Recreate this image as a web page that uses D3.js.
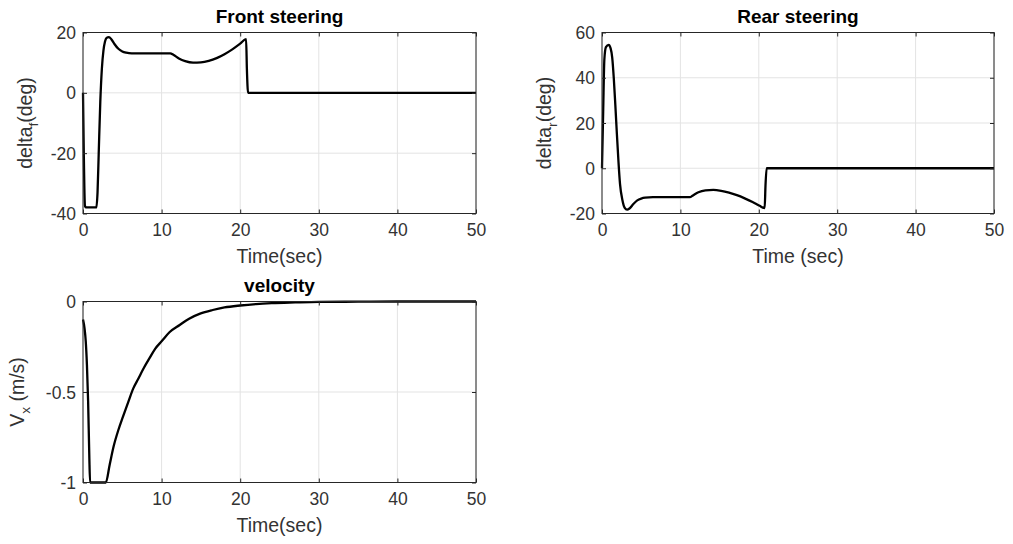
<!DOCTYPE html>
<html>
<head>
<meta charset="utf-8">
<script src="https://cdn.jsdelivr.net/npm/d3@7"></script>
<style>
  html, body { margin: 0; padding: 0; background: #fff; }
  svg { display: block; font-family: "Liberation Sans", Arial, sans-serif; }
</style>
</head>
<body>
<svg id="fig" width="1013" height="544"></svg>
<script>
// Front wheel steering angle (deg) over time (s)
const frontTime  = [0, 0.1, 0.25, 0.4, 1.7, 1.85, 2.0, 2.2, 2.4, 2.6, 2.8, 3.0, 3.3, 3.6, 4.0, 4.5, 5.0, 5.5, 6.2, 8, 10, 11.1, 11.5, 12.2, 13.0, 14.0, 15.0, 16.0, 17.0, 18.0, 19.0, 20.0, 20.75, 20.85, 21.0, 50];
const frontDelta = [0, -20, -37.5, -38, -38, -33, -20, -3, 8, 14, 17, 18.2, 18.5, 17.8, 16.2, 14.6, 13.7, 13.3, 13.1, 13.1, 13.1, 13.1, 12.6, 11.4, 10.5, 10.0, 10.1, 10.6, 11.5, 12.8, 14.4, 16.3, 17.8, 8, 0, 0];

// Rear wheel steering angle (deg) over time (s)
const rearTime  = [0, 0.15, 0.3, 0.5, 0.85, 1.1, 1.3, 1.5, 1.7, 1.9, 2.1, 2.3, 2.6, 2.9, 3.2, 3.5, 4.0, 4.5, 5.0, 5.5, 6.5, 11.2, 11.6, 12.3, 13.2, 14.2, 15.2, 16.2, 17.2, 18.2, 19.2, 20.1, 20.75, 20.85, 21.0, 50];
const rearDelta = [0, 25, 48, 53.5, 54.5, 53, 49, 40, 28, 15, 3, -7, -14, -17.5, -18.3, -17.8, -15.8, -14.2, -13.4, -13.0, -12.8, -12.8, -12.0, -10.6, -9.8, -9.6, -10.0, -10.8, -11.9, -13.3, -14.9, -16.6, -17.6, -8, 0, 0];

// Longitudinal velocity (m/s) over time (s)
const velTime = [0, 0.2, 0.35, 0.5, 0.65, 0.8, 0.9, 2.9, 3.4, 3.9, 4.5, 5.1, 5.8, 6.4, 7.0, 7.7, 8.5, 9.2, 10, 11, 12.3, 13.5, 14.9, 16.5, 18, 20, 22, 24, 27, 30, 35, 40, 50];
const velX    = [-0.1, -0.15, -0.22, -0.35, -0.55, -0.85, -1, -1, -0.9, -0.8, -0.71, -0.635, -0.55, -0.48, -0.43, -0.37, -0.31, -0.26, -0.22, -0.17, -0.13, -0.095, -0.067, -0.047, -0.033, -0.022, -0.014, -0.009, -0.005, -0.002, -0.001, 0, 0];

// Tick values
const timeTicks  = [0, 10, 20, 30, 40, 50];
const frontTicks = [-40, -20, 0, 20];
const rearTicks  = [-20, 0, 20, 40, 60];
const velTicks   = [-1, -0.5, 0];

const svg = d3.select("#fig");
const TICK_FS = 17.5, LABEL_FS = 19.5, TITLE_FS = 19;
const AXIS_COLOR = "#262626", TEXT_COLOR = "#333", GRID_COLOR = "#e3e3e3";
const plain = d => String(d);   // hyphen minus, as in the plotting tool's labels

function panel(opts) {
  const { left, top, width, height, xs, ys, yDomain, yTicks, title, xLabel, yLabel, yLabelX } = opts;
  const g = svg.append("g").attr("transform", `translate(${left},${top})`);
  const x = d3.scaleLinear().domain([0, 50]).range([0, width]);
  const y = d3.scaleLinear().domain(yDomain).range([height, 0]);

  // grid
  g.append("g").selectAll("line").data(timeTicks).join("line")
    .attr("x1", d => x(d)).attr("x2", d => x(d)).attr("y1", 0).attr("y2", height)
    .attr("stroke", GRID_COLOR).attr("stroke-width", 1);
  g.append("g").selectAll("line").data(yTicks).join("line")
    .attr("y1", d => y(d)).attr("y2", d => y(d)).attr("x1", 0).attr("x2", width)
    .attr("stroke", GRID_COLOR).attr("stroke-width", 1);

  // data line
  const pts = xs.map((t, i) => [t, ys[i]]);
  g.append("path").datum(pts)
    .attr("d", d3.line().curve(d3.curveMonotoneX).x(d => x(d[0])).y(d => y(d[1])))
    .attr("fill", "none").attr("stroke", "#000").attr("stroke-width", 2.3)
    .attr("stroke-linejoin", "round");

  // axes (ticks pointing inward, on all four sides)
  const xa = g.append("g").attr("transform", `translate(0,${height})`)
    .call(d3.axisBottom(x).tickValues(timeTicks).tickFormat(plain).tickSizeInner(-4).tickSizeOuter(0).tickPadding(10));
  const xt = g.append("g")
    .call(d3.axisTop(x).tickValues(timeTicks).tickSizeInner(-4).tickSizeOuter(0).tickFormat(""));
  const ya = g.append("g")
    .call(d3.axisLeft(y).tickValues(yTicks).tickFormat(plain).tickSizeInner(-4).tickSizeOuter(0).tickPadding(7));
  const yr = g.append("g").attr("transform", `translate(${width},0)`)
    .call(d3.axisRight(y).tickValues(yTicks).tickSizeInner(-4).tickSizeOuter(0).tickFormat(""));
  [xa, xt, ya, yr].forEach(a => {
    a.select(".domain").remove();
    a.selectAll(".tick line").attr("stroke", AXIS_COLOR);
    a.selectAll("text").attr("font-size", TICK_FS).attr("fill", TEXT_COLOR)
      .attr("font-family", "Liberation Sans, Arial, sans-serif");
  });
  ya.selectAll("text").attr("dy", "0.35em");

  // box
  g.append("rect").attr("width", width).attr("height", height)
    .attr("fill", "none").attr("stroke", AXIS_COLOR).attr("stroke-width", 1);

  // title
  g.append("text").attr("x", width / 2).attr("y", -10).attr("text-anchor", "middle")
    .attr("font-size", TITLE_FS).attr("font-weight", "bold").attr("fill", "#000").text(title);

  // x label
  g.append("text").attr("x", width / 2).attr("y", height + 49).attr("text-anchor", "middle")
    .attr("font-size", LABEL_FS).attr("fill", TEXT_COLOR).text(xLabel);

  // y label with subscript
  const yl = g.append("text").attr("transform", `translate(${yLabelX},${height / 2}) rotate(-90)`)
    .attr("text-anchor", "middle").attr("font-size", LABEL_FS).attr("fill", TEXT_COLOR);
  yl.append("tspan").text(yLabel[0]);
  yl.append("tspan").attr("font-size", LABEL_FS * 0.7).attr("dy", 6).text(yLabel[1]);
  yl.append("tspan").attr("dy", -6).text(yLabel[2]);
}

panel({ left: 83, top: 32.5, width: 393, height: 181, xs: frontTime, ys: frontDelta,
  yDomain: [-40, 20], yTicks: frontTicks, title: "Front steering", xLabel: "Time(sec)",
  yLabel: ["delta", "f", "(deg)"], yLabelX: -51 });

panel({ left: 602, top: 32.5, width: 392, height: 181, xs: rearTime, ys: rearDelta,
  yDomain: [-20, 60], yTicks: rearTicks, title: "Rear steering", xLabel: "Time (sec)",
  yLabel: ["delta", "r", "(deg)"], yLabelX: -51 });

panel({ left: 83, top: 301.5, width: 393, height: 181, xs: velTime, ys: velX,
  yDomain: [-1, 0], yTicks: velTicks, title: "velocity", xLabel: "Time(sec)",
  yLabel: ["V", "x", " (m/s)"], yLabelX: -59 });
</script>
</body>
</html>
